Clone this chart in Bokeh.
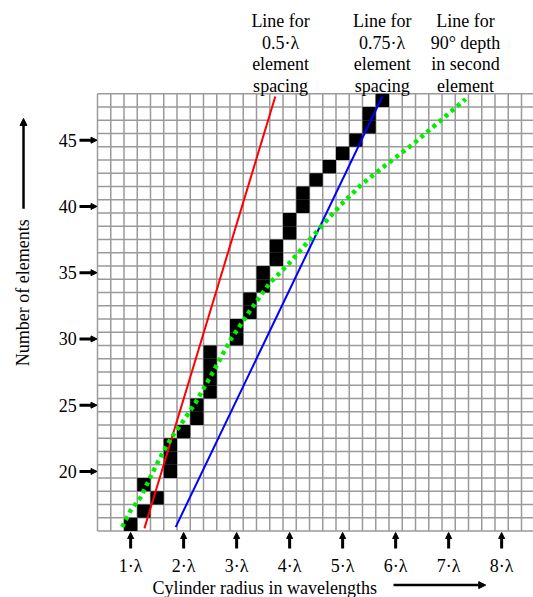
import numpy as np
from bokeh.plotting import figure
from bokeh.models import Range1d, ColumnDataSource, Arrow, NormalHead
from bokeh.core.properties import value
from bokeh.embed import file_html
from bokeh.resources import INLINE

# ---------------- data ----------------
# number of elements (one black cell per row) and optimal cylinder radius (in wavelengths)
elements = list(range(16, 49))
radius = [1.0, 1.25, 1.5, 1.25, 1.75, 1.75, 1.75, 2.0, 2.25, 2.25,
          2.5, 2.5, 2.5, 2.5, 3.0, 3.0, 3.25, 3.25, 3.5, 3.5,
          3.75, 3.75, 4.0, 4.0, 4.25, 4.25, 4.5, 4.75, 5.0, 5.25,
          5.5, 5.5, 5.75]

# reference lines
red_r = [1.26, 3.73]      # 0.5 lambda element spacing
red_n = [15.7, 48.3]
blue_r = [1.85, 5.75]     # 0.75 lambda element spacing
blue_n = [15.8, 48.3]
green_r = [0.84, 1.00, 1.19, 1.34, 1.50, 1.66, 1.82, 2.00, 2.22, 2.54, 2.88,
           3.23, 3.61, 3.99, 4.58, 4.96, 5.37, 5.84, 6.34, 6.78, 7.32]
green_n = [15.8, 17.05, 18.05, 19.3, 20.6, 21.8, 22.85, 23.85, 25.15, 27.4, 29.9,
           32.0, 34.15, 35.7, 38.4, 40.1, 41.7, 43.2, 44.75, 46.25, 48.1]

x_ticks = [1, 2, 3, 4, 5, 6, 7, 8]
x_tick_labels = ["1·λ", "2·λ", "3·λ", "4·λ", "5·λ", "6·λ", "7·λ", "8·λ"]
y_ticks = [20, 25, 30, 35, 40, 45]
y_tick_labels = ["20", "25", "30", "35", "40", "45"]

# grid of cells: columns every 0.25 lambda, rows one per element count
cell_w = 0.25
col_min, col_max = 0.5, 8.5
row_min, row_max = 16, 48

FONT = value("Liberation Serif")
FS = "18px"

p = figure(width=533, height=597,
           x_range=Range1d(-1.4552, 8.6014), y_range=Range1d(10.485, 55.5415),
           x_axis_type=None, y_axis_type=None,
           toolbar_location=None, output_backend="svg",
           min_border=0, outline_line_color=None,
           background_fill_color="white", border_fill_color="white")

# grid lines
xe = np.arange(col_min - cell_w / 2, col_max + cell_w, cell_w)
ye = np.arange(row_min - 0.5, row_max + 1.0, 1.0)
gx0 = col_min - cell_w / 2
gx1 = col_max + cell_w / 2
p.segment(x0=xe, y0=[ye[0]] * len(xe), x1=xe, y1=[ye[-1]] * len(xe),
          line_color="#9a9a9a", line_width=1.5)
p.segment(x0=[gx0] * len(ye), y0=ye, x1=[gx1] * len(ye), y1=ye,
          line_color="#9a9a9a", line_width=1.5)

# black cells
src = ColumnDataSource(dict(x=radius, y=elements))
p.rect(x="x", y="y", width=cell_w, height=1, source=src,
       fill_color="black", line_color=None)

# lines
p.line(red_r, red_n, line_color="#ff0000", line_width=2)
p.line(blue_r, blue_n, line_color="#0000ff", line_width=2)
p.line(green_r, green_n, line_color="#00ee00", line_width=4.5,
       line_dash="4 4", line_cap="butt")

# y ticks (arrows) and labels
ysrc = ColumnDataSource(dict(x0=[0.035] * len(y_ticks), x1=[0.366] * len(y_ticks),
                             y=y_ticks))
p.add_layout(Arrow(end=NormalHead(size=6, fill_color="black", line_color="black", line_width=1),
                   x_start="x0", y_start="y", x_end="x1", y_end="y",
                   source=ysrc, line_width=3, line_color="black"))
p.text(x=[-0.015] * len(y_ticks), y=y_ticks, text=y_tick_labels,
       text_font=FONT, text_font_size=FS, text_align="right",
       text_baseline="middle", text_color="black")

# x ticks (arrows) and labels
xsrc = ColumnDataSource(dict(x=x_ticks, y0=[14.18] * len(x_ticks), y1=[15.39] * len(x_ticks)))
p.add_layout(Arrow(end=NormalHead(size=6, fill_color="black", line_color="black", line_width=1),
                   x_start="x", y_start="y0", x_end="x", y_end="y1",
                   source=xsrc, line_width=3, line_color="black"))
p.text(x=x_ticks, y=[12.83] * len(x_ticks), text=x_tick_labels,
       text_font=FONT, text_font_size=FS, text_align="center",
       text_baseline="alphabetic", text_color="black")

# axis titles with arrows
p.text(x=[-1.04], y=[33.48], text=["Number of elements"], angle=np.pi / 2,
       text_font=FONT, text_font_size=FS, text_align="center",
       text_baseline="middle", text_color="black")
p.add_layout(Arrow(end=NormalHead(size=7, fill_color="black", line_color="black", line_width=1),
                   x_start=-1.021, y_start=39.82, x_end=-1.021, y_end=46.64,
                   line_width=2.5, line_color="black"))
p.text(x=[3.531], y=[11.19], text=["Cylinder radius in wavelengths"],
       text_font=FONT, text_font_size=FS, text_align="center",
       text_baseline="alphabetic", text_color="black")
p.add_layout(Arrow(end=NormalHead(size=7, fill_color="black", line_color="black", line_width=1),
                   x_start=5.96, y_start=11.42, x_end=7.70, y_end=11.42,
                   line_width=2.5, line_color="black"))

# annotations above the grid
notes = [(3.83, ["Line for", "0.5·λ", "element", "spacing"]),
         (5.747, ["Line for", "0.75·λ", "element", "spacing"]),
         (7.318, ["Line for", "90° depth", "in second", "element"])]
line_ys = [53.98, 52.36, 50.74, 49.12]
for nx, lines in notes:
    p.text(x=[nx] * len(lines), y=line_ys, text=lines,
           text_font=FONT, text_font_size=FS, text_align="center",
           text_baseline="alphabetic", text_color="black")

open("out.html", "w").write(file_html(p, INLINE))
